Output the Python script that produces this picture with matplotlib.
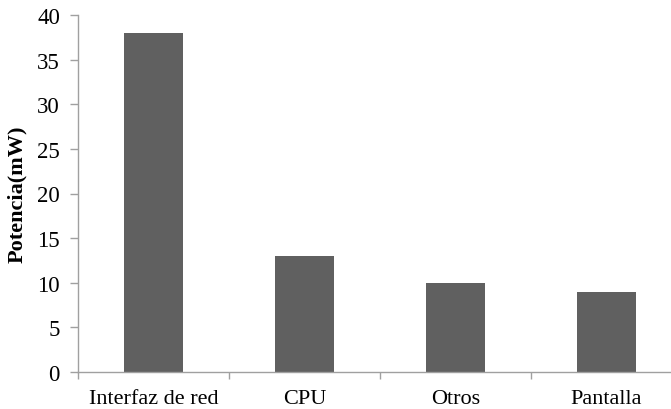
import matplotlib
matplotlib.use("Agg")
import matplotlib.pyplot as plt

categories = ["Interfaz de red", "CPU", "Otros", "Pantalla"]
values = [38, 13, 10, 9]
yticks = [0, 5, 10, 15, 20, 25, 30, 35, 40]

plt.rcParams['font.family'] = ['Liberation Serif', 'DejaVu Serif']

fig = plt.figure(figsize=(6.71, 4.10), dpi=100)
ax = fig.add_axes([78/671, 37/410, 604/671, 357/410])

x = list(range(len(categories)))
ax.bar(x, values, width=0.39, color="#606060", edgecolor="#606060", linewidth=0)
ax.set_xlim(-0.5, len(categories) - 0.5)
ax.set_ylim(0, 40)
ax.set_yticks(yticks)
ax.set_yticklabels([str(t) for t in yticks], fontsize=16.5)
ax.set_xticks(x)
ax.set_xticklabels(categories, fontsize=16)
ax.set_xticks([i - 0.5 for i in range(len(categories) + 1)], minor=True)
ax.tick_params(axis='x', which='major', length=0, pad=12)
ax.tick_params(axis='x', which='minor', length=5, color="#a0a0a0", width=1)
ax.tick_params(axis='y', length=6, color="#a0a0a0", width=1, pad=7)
for s in ['top', 'right']:
    ax.spines[s].set_visible(False)
for s in ['left', 'bottom']:
    ax.spines[s].set_color("#a0a0a0")
    ax.spines[s].set_linewidth(1)
ax.set_ylabel("Potencia(mW)", fontsize=16, fontweight='bold', labelpad=7)

fig.savefig("out.png", dpi=100)
